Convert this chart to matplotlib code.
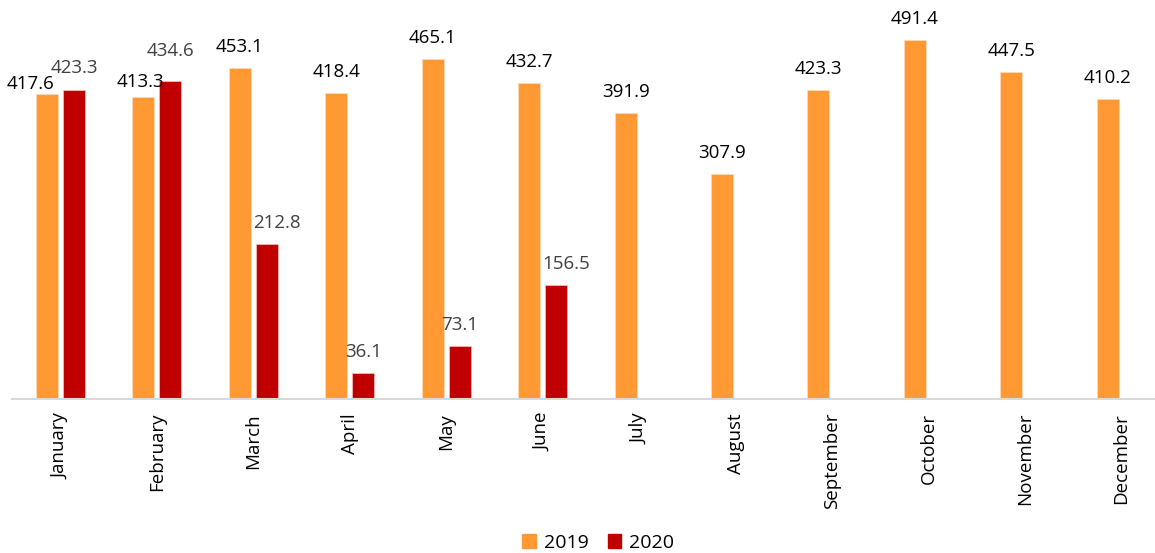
import numpy as np
import matplotlib.pyplot as plt
from matplotlib.patches import Patch

months = ['January', 'February', 'March', 'April', 'May', 'June', 'July',
          'August', 'September', 'October', 'November', 'December']
v2019 = [417.6, 413.3, 453.1, 418.4, 465.1, 432.7, 391.9, 307.9, 423.3, 491.4, 447.5, 410.2]
v2020 = [423.3, 434.6, 212.8, 36.1, 73.1, 156.5]

# label nudges (points) to mimic where the source put some labels
dx2019 = [-12, -2] + [0] * 10
dy2019 = [7, 11] + [15] * 10
dx2020 = [0, 0, 7, 0, 0, 7]
dy2020 = [16, 22, 15, 15, 15, 15]

plt.rcParams['font.family'] = ['Open Sans', 'DejaVu Sans']

fig = plt.figure(figsize=(11.55, 5.53), dpi=100)
ax = fig.add_axes([12/1155, 1-399/553, 1-12/1155, 399/553])

x = np.arange(len(months))
w = 0.228
off = 0.14
c19 = '#FF9933'
c20 = '#C00000'

ax.bar(x - off, v2019, w, color=c19, edgecolor='#FFD9B8', linewidth=0.6)
x20 = x[:len(v2020)] + off
ax.bar(x20, v2020, w, color=c20, edgecolor='#F4B6B6', linewidth=0.6)

for xi, v, dx, dy in zip(x - off, v2019, dx2019, dy2019):
    ax.annotate(f'{v:.1f}', (xi, v), xytext=(dx, dy), textcoords='offset points',
                ha='center', va='center', fontsize=13.5, color='black')
for xi, v, dx, dy in zip(x20, v2020, dx2020, dy2020):
    ax.annotate(f'{v:.1f}', (xi, v), xytext=(dx, dy), textcoords='offset points',
                ha='center', va='center', fontsize=13.5, color='#404040')

ax.set_xlim(-0.503, 11.35)
ax.set_ylim(0, 399/0.7306)
ax.set_yticks([])
ax.set_xticks(x)
ax.set_xticklabels(months, rotation=90, fontsize=13.5)
ax.tick_params(axis='x', length=0, pad=10)
for s in ['top', 'right', 'left']:
    ax.spines[s].set_visible(False)
ax.spines['bottom'].set_color('#D9D9D9')
ax.spines['bottom'].set_linewidth(1.5)

handles = [Patch(color=c19, label='2019'), Patch(color=c20, label='2020')]
fig.legend(handles=handles, loc='center', bbox_to_anchor=(0.518, 1-543/553), ncol=2,
           frameon=False, fontsize=14, handlelength=0.7, handleheight=0.7,
           handletextpad=0.4, columnspacing=1.0)

fig.savefig('out.png', dpi=100)
